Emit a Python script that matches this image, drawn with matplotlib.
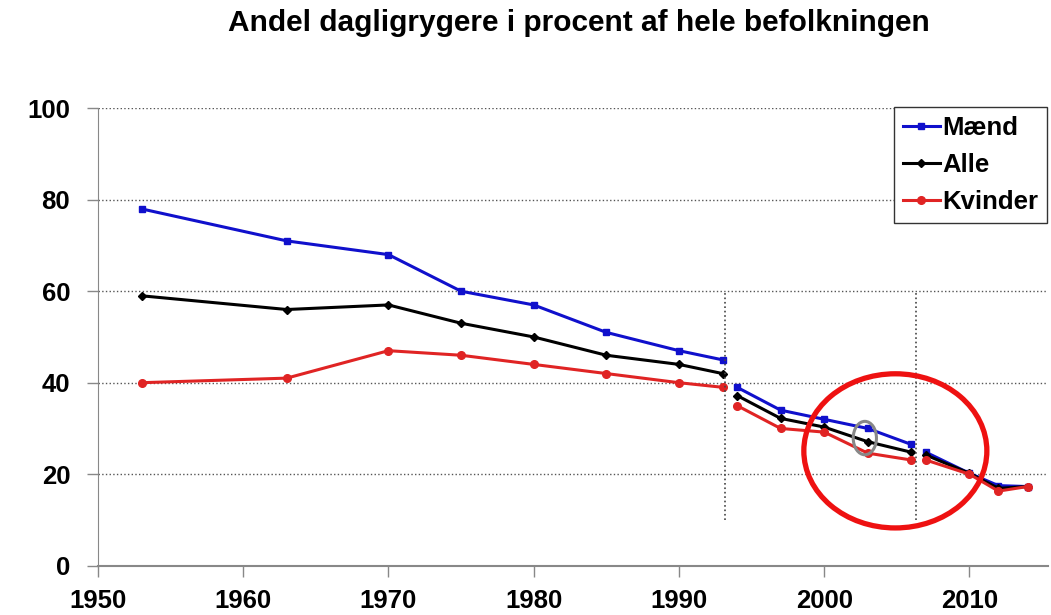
import matplotlib
matplotlib.use("Agg")
import matplotlib.pyplot as plt
from matplotlib.patches import Ellipse

plt.rcParams['font.family'] = ['Liberation Sans', 'DejaVu Sans']
plt.rcParams['font.weight'] = 'bold'

# three survey series, broken into periods
years = [[1953, 1963, 1970, 1975, 1980, 1985, 1990, 1993],
         [1994, 1997, 2000, 2003, 2006],
         [2007, 2010, 2012, 2014]]
maend = [[78, 71, 68, 60, 57, 51, 47, 45],
         [39, 34, 32, 30, 26.5],
         [24.8, 20.2, 17.5, 17.3]]
alle = [[59, 56, 57, 53, 50, 46, 44, 42],
        [37.2, 32.2, 30.3, 27.1, 24.8],
        [24.2, 20.2, 16.9, 17.3]]
kvinder = [[40, 41, 47, 46, 44, 42, 40, 39],
           [35, 30, 29.2, 24.6, 23.1],
           [23.1, 20.0, 16.3, 17.3]]
breaks = [1993.2, 2006.3]

fig = plt.figure(figsize=(10.51, 6.15), dpi=100)
ax = fig.add_axes([0.0932, 0.0802, 0.9038, 0.7438])

series = [("Mænd", maend, "#1010CC", "s", 5),
          ("Alle", alle, "black", "D", 4),
          ("Kvinder", kvinder, "#E02424", "o", 5.5)]
for name, vals, col, mk, ms in series:
    for i in range(len(years)):
        ax.plot(years[i], vals[i], color=col, marker=mk, markersize=ms,
                linewidth=2.2, label=name if i == 0 else None)

for b in breaks:
    ax.plot([b, b], [10, 60], color="#444444", linestyle=":", linewidth=1.2)

# highlight ellipses
ax.add_patch(Ellipse((2004.9, 25.1), 12.6, 33.7, fill=False,
                     edgecolor="#EE1111", linewidth=3.8, zorder=5))
ax.add_patch(Ellipse((2002.8, 27.9), 1.6, 7.3, fill=False,
                     edgecolor="#888888", linewidth=2.2, zorder=6))

ax.set_xlim(1950, 2015.4)
ax.set_ylim(0, 100)
ax.set_xticks(range(1950, 2011, 10))
ax.set_yticks(range(0, 101, 20))
ax.tick_params(axis='both', labelsize=18.5, length=8, color="#888888", width=1)
ax.tick_params(axis='x', pad=9)
ax.tick_params(axis='y', pad=12)
for lab in ax.get_xticklabels() + ax.get_yticklabels():
    lab.set_fontweight('bold')
ax.grid(axis='y', linestyle=':', color="#555555", linewidth=1)
ax.set_axisbelow(True)
for s in ['top', 'right']:
    ax.spines[s].set_visible(False)
ax.spines['left'].set_color("#888888")
ax.spines['bottom'].set_color("#888888")
ax.spines['bottom'].set_linewidth(1.5)

leg = ax.legend(loc='upper right', bbox_to_anchor=(0.9995, 1.003),
                prop={'weight': 'bold', 'size': 18.5}, handlelength=1.45,
                handletextpad=0.1, borderpad=0.35, labelspacing=0.5,
                borderaxespad=0, fancybox=False, framealpha=1,
                edgecolor="#333333")
leg.get_frame().set_linewidth(1)

fig.text(0.551, 0.962, "Andel dagligrygere i procent af hele befolkningen",
         ha='center', va='center', fontsize=21.5, fontweight='bold')

fig.savefig("out.png", dpi=100)
